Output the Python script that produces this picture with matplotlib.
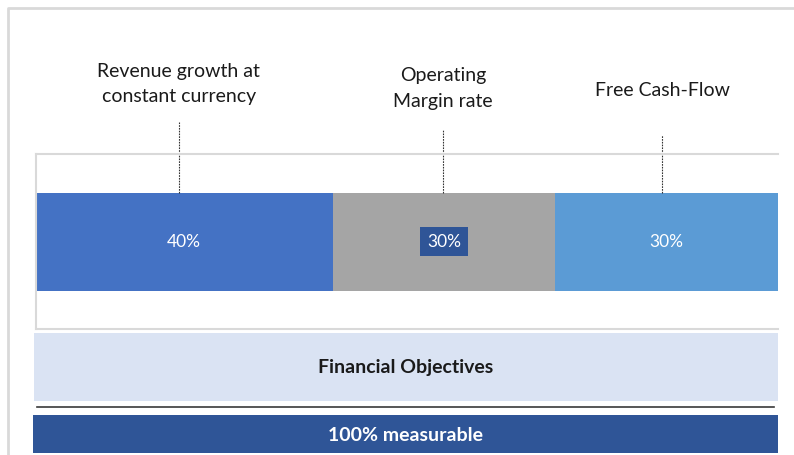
import matplotlib.pyplot as plt
from matplotlib.patches import Rectangle
import numpy as np

plt.rcParams['font.family'] = ['Lato', 'DejaVu Sans']

categories = ['Revenue growth at\nconstant currency', 'Operating\nMargin rate', 'Free Cash-Flow']
weights = np.array([40, 30, 30])
colors = ['#4472C4', '#A5A5A5', '#5B9BD5']
label_x = [19.3, 54.9, 84.4]      # where the leader lines sit (in % of bar)
line_top = [1.184, 1.138, 1.107]  # top of the dotted leader lines (axes units)
text_y = [1.405, 1.38, 1.37]

W, H = 794, 456
fig = plt.figure(figsize=(W / 100, H / 100), dpi=100)

# background layer in pixel units for the frames and boxes
bg = fig.add_axes([0, 0, 1, 1])
bg.set_xlim(0, W)
bg.set_ylim(H, 0)
bg.axis('off')
bg.plot([7.5, 7.5, W], [H, 9, 9], color='#D9D9D9', lw=2)
bg.add_patch(Rectangle((34, 334), 744, 68, color='#DAE3F3', lw=0))
bg.text(406, 368, 'Financial Objectives', ha='center', va='center',
        fontsize=14, fontweight='bold', color='#1a1a1a')
bg.plot([37, 774], [408.5, 408.5], color='#3a3a3a', lw=1.2)
bg.add_patch(Rectangle((33, 416), 745, 38, color='#2F5597', lw=0))
bg.text(406, 436, '100% measurable', ha='center', va='center',
        fontsize=14, fontweight='bold', color='white')

# the stacked bar
ax = fig.add_axes([35.5 / W, (H - 330) / H, 742.5 / W, 175 / H])
left = np.concatenate([[0], np.cumsum(weights)[:-1]])
ax.barh(0.5, weights, left=left, height=0.56, color=colors, lw=0)
ax.set_xlim(0, 100)
ax.set_ylim(0, 1)
ax.set_xticks([])
ax.set_yticks([])
for s in ['top', 'left', 'bottom']:
    ax.spines[s].set_color('#D9D9D9')
    ax.spines[s].set_linewidth(1.5)
ax.spines['right'].set_visible(False)

for i, (l, w) in enumerate(zip(left, weights)):
    kw = {}
    if i == 1:
        kw['bbox'] = dict(boxstyle='square,pad=0.4', fc='#2F5597', ec='none')
    ax.text(l + w / 2, 0.5, f'{w}%', ha='center', va='center',
            color='white', fontsize=12.5, **kw)

for x, lt, ty, name in zip(label_x, line_top, text_y, categories):
    ax.plot([x, x], [0.78, lt], color='#333333', lw=0.8, ls=(0, (1.5, 1)),
            clip_on=False)
    ax.text(x, ty, name, ha='center', va='center', fontsize=14,
            color='#1a1a1a', linespacing=1.6, clip_on=False)

plt.savefig('out.png', dpi=100)
